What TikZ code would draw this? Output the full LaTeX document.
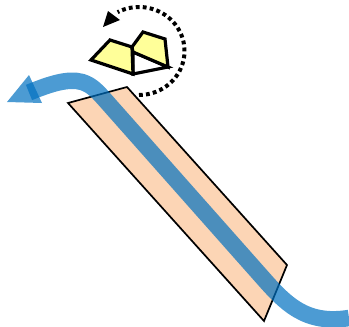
\documentclass[tikz,border=0pt]{standalone}
\definecolor{bandblue}{RGB}{0,112,192}
\definecolor{stripfill}{RGB}{252,213,181}
\definecolor{wingfill}{RGB}{255,255,153}

\begin{document}
\begin{tikzpicture}[x=1pt,y=-1pt]
    % Center and radii of the dotted turn
    \def\cx{139}
    \def\cy{51}
    \def\rx{45.5}
    \def\ry{44}

    \useasboundingbox (0,0) rectangle (349,327);

    % Strip
    \draw[fill=stripfill, line width=1.7pt, line join=miter] (68,103) -- (127,87) -- (287,265) -- (264,321) -- cycle;

    % Blue band and its head (overlap left darker on purpose)
    \draw[bandblue, opacity=0.7, line width=16.5pt] (29,92.5) .. controls (50,84) and (68,78) .. (82,82)
        .. controls (92,85) and (98,92) .. (106,101) -- (262,277)
        .. controls (285,303) and (305,325) .. (349,318);
    \fill[bandblue, opacity=0.7] (7,102) -- (29,75) -- (42,103) -- cycle;

    % Wing: white gap first, then the two yellow parts
    \draw[fill=white, line width=3.2pt, line join=miter] (133,52) -- (168,67) -- (133,74) -- cycle;
    \draw[fill=wingfill, line width=3.2pt, line join=miter] (91,60) -- (110,40) -- (132,47) -- (133,74) -- cycle;
    \draw[fill=wingfill, line width=3.2pt, line join=miter] (132,47) -- (143,32) -- (165,39) -- (168,67) -- (133,52) -- cycle;

    % Dotted turn around the wing
    \draw[line width=4pt, dash pattern=on 3.8pt off 3.2pt] plot[domain=90:-118, samples=70] ({\cx+\rx*cos(\x)},{\cy+\ry*sin(\x)});
    \fill (103,27) -- (108,11) -- (120,20) -- cycle;
\end{tikzpicture}
\end{document}
